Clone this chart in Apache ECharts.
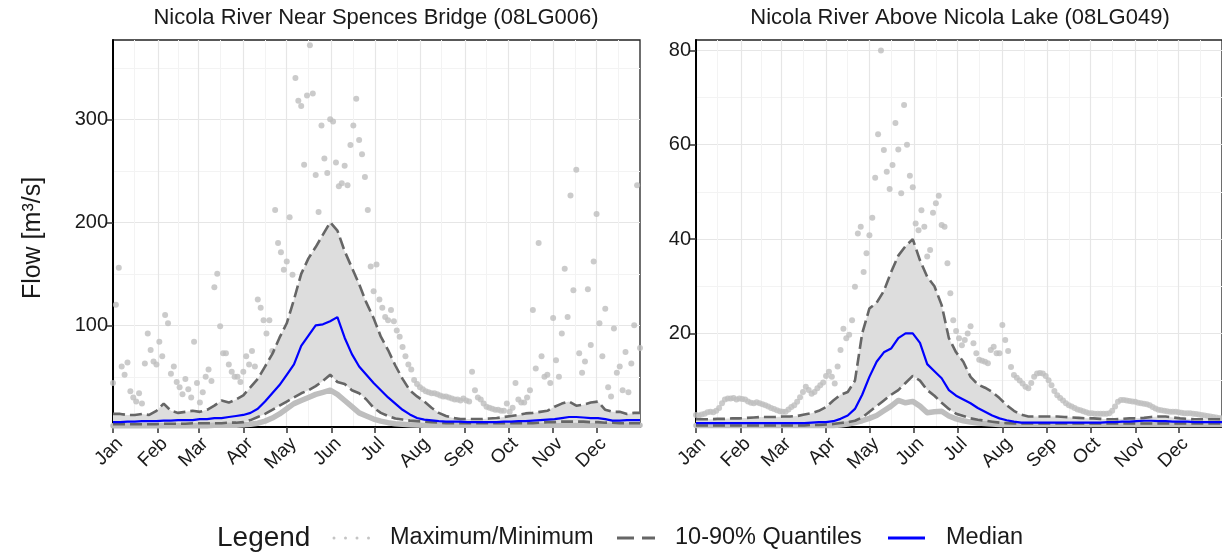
<!DOCTYPE html>
<html>
<head>
<meta charset="utf-8">
<script src="https://cdn.jsdelivr.net/npm/echarts@6/dist/echarts.min.js"></script>
<style>
  html, body { margin: 0; padding: 0; background: #fff; }
  #app { width: 1222px; height: 554px; }
</style>
</head>
<body>
<div id="app"></div>
<script>
// x axis: day of year, month starts get labels
var monthStarts = [1, 32, 60, 91, 121, 152, 182, 213, 244, 274, 305, 335];
var monthMids = [16, 46, 75, 106, 136, 167, 197, 228, 259, 289, 320, 350];
var monthNames = ['Jan', 'Feb', 'Mar', 'Apr', 'May', 'Jun', 'Jul', 'Aug', 'Sep', 'Oct', 'Nov', 'Dec'];

var leftTicks = [100, 200, 300];
var leftMinor = [50, 150, 250, 350];
var rightTicks = [20, 40, 60, 80];
var rightMinor = [10, 30, 50, 70];

// 08LG006 - lines every 5 days (day 1, 6, 11 ... 366)
var lMedian = [
  6, 6, 6.5, 6.5, 7, 7, 7, 7.5, 7.5, 8,
  8, 8, 9, 9, 10, 10, 11, 12, 13, 15,
  19, 26, 34, 42, 52, 62, 80, 90, 100, 101,
  104, 108, 88, 72, 60, 52, 44, 37, 30, 24,
  18, 13.5, 10, 8.5, 7.8, 7, 6.5, 6.5, 6.5, 6,
  6, 6, 6, 6, 6.5, 6.5, 7, 7, 7.5, 8,
  8.5, 9, 10, 11, 11, 10.5, 10, 10, 9, 7.5,
  7.5, 8, 8, 8
];
var lQ90 = [
  14, 14, 13, 13, 14, 13, 17, 24, 17, 15,
  16, 17, 16, 18, 22, 27, 25, 28, 32, 40,
  48, 60, 72, 88, 102, 125, 150, 165, 176, 188,
  200, 192, 172, 156, 140, 122, 107, 89, 76, 61,
  48, 37, 31, 26, 20, 15, 12, 10, 9, 9,
  9, 9, 9.5, 10, 11, 12, 13, 14.5, 15, 16,
  17, 21, 24, 26, 22, 23, 25, 26, 18, 16,
  16, 14, 15, 15
];
var lQ10 = [
  4, 4, 4, 4, 4, 4, 4, 4.5, 4.5, 4.5,
  4.5, 5, 5, 5, 5, 5, 5.5, 5.5, 6, 8,
  11, 14, 18, 22, 26, 30, 34, 37, 41, 46,
  52, 45, 43, 37, 34, 28, 20, 15, 12, 9.5,
  8.5, 7.5, 7, 6.5, 6, 5.5, 5, 5, 5, 5,
  5, 5, 5, 5, 5, 5, 5, 5, 5, 5.5,
  6, 6, 6.5, 6.5, 6.5, 6.5, 6, 6, 5.5, 5.5,
  5, 5, 5, 5
];
var lMin = [
  2.5, 2.5, 2.5, 2.5, 2.5, 2.5, 2.5, 2.5, 2.5, 2.5,
  2.5, 2.5, 2.5, 2.5, 3, 3, 3, 3, 3.5, 4,
  5, 7, 10, 14, 19, 24, 27, 30, 33, 35,
  37, 33, 27, 21, 15, 12, 9, 7, 5.5, 4.5,
  4, 3.5, 3.2, 3, 3, 3, 3, 3, 3, 3,
  3, 3, 3, 3, 3, 3, 3, 3, 3, 3,
  3, 3, 3, 3, 3, 3, 3, 3, 3, 3,
  3, 3, 3, 3
];
// 08LG006 - daily maximum, every 2 days (day 1, 3, 5 ... 365)
var lMax = [
  44, 120, 156, 60, 52, 64, 36, 30, 26, 34,
  24, 63, 92, 76, 65, 62, 84, 70, 110, 102,
  53, 60, 45, 40, 33, 48, 38, 30, 84, 44,
  25, 35, 50, 57, 46, 137, 150, 99, 73, 73,
  62, 55, 50, 50, 45, 55, 70, 62, 75, 60,
  125, 117, 105, 92, 105, 75, 212, 180, 171, 154,
  162, 205, 149, 340, 318, 313, 256, 323, 372, 325,
  246, 210, 294, 262, 248, 300, 298, 258, 235, 238,
  255, 236, 275, 294, 320, 280, 266, 244, 212, 157,
  133, 159, 125, 117, 108, 105, 115, 104, 95, 89,
  79, 70, 62, 57, 47, 43, 40, 38, 36, 35,
  34, 34, 33, 32, 31, 31, 30, 29, 28, 28,
  27, 29, 27, 26, 55, 37, 30, 28, 24, 21,
  20, 19, 18, 18, 17, 17, 24, 16, 20, 44,
  28, 25, 25, 30, 37, 115, 58, 180, 70, 50,
  52, 44, 107, 66, 50, 92, 155, 108, 226, 134,
  251, 73, 54, 65, 135, 81, 162, 208, 102, 70,
  116, 40, 31, 97, 54, 60, 37, 74, 35, 63,
  100, 236, 78
];

// 08LG049 - lines every 5 days
var rMedian = [
  1, 1, 1, 1, 1, 1, 1, 1, 1, 1,
  1, 1, 1, 1, 1, 1, 1.1, 1.2, 1.2, 1.4,
  1.9, 2.6, 4, 7, 10.8, 14, 16, 16.8, 19, 20,
  20, 18, 13.5, 12, 10.5, 8, 6.8, 6, 5.2, 4.2,
  3.4, 2.6, 2, 1.6, 1.3, 1.1, 1.1, 1.1, 1.1, 1.1,
  1.1, 1.1, 1.1, 1.1, 1.1, 1.1, 1.1, 1.2, 1.2, 1.3,
  1.3, 1.4, 1.5, 1.5, 1.4, 1.4, 1.3, 1.3, 1.3, 1.2,
  1.2, 1.2, 1.2, 1.2
];
var rQ90 = [
  1.8, 1.8, 1.8, 1.9, 1.9, 2, 2, 2.1, 2.2, 2.3,
  2.3, 2.3, 2.4, 2.4, 2.5, 2.8, 3.1, 3.6, 4.4, 5.8,
  7, 7.6, 10, 20, 25.3, 26.5, 29, 33, 36.5, 38.5,
  40, 35.5, 32, 30, 26, 19, 16, 14, 10.8, 9.2,
  8.5, 7.6, 6.3, 4.8, 3.6, 2.8, 2.4, 2.4, 2.4, 2.4,
  2.4, 2.3, 2.2, 2.1, 2, 2, 1.9, 1.8, 1.8, 1.9,
  2, 2, 2.1, 2.3, 2.4, 2.4, 2.2, 2, 1.9, 1.8,
  1.8, 1.8, 1.8, 1.8
];
var rQ10 = [
  0.5, 0.5, 0.5, 0.5, 0.5, 0.5, 0.5, 0.5, 0.5, 0.5,
  0.5, 0.5, 0.5, 0.5, 0.5, 0.5, 0.6, 0.6, 0.7, 0.8,
  1, 1.2, 1.5, 2.2, 3.4, 4.6, 5.8, 7, 8, 9.5,
  11, 10, 8, 6.8, 5.3, 4, 3, 2.5, 2, 1.7,
  1.5, 1.3, 1.1, 1, 0.9, 0.9, 0.9, 0.9, 0.9, 0.9,
  0.9, 0.9, 0.9, 0.9, 0.9, 0.9, 0.9, 0.9, 0.9, 0.9,
  0.9, 0.9, 0.9, 0.9, 0.9, 0.9, 0.9, 0.9, 0.9, 0.9,
  0.9, 0.9, 0.9, 0.9
];
var rMin = [
  0.5, 0.5, 0.5, 0.5, 0.5, 0.5, 0.5, 0.5, 0.5, 0.5,
  0.5, 0.5, 0.5, 0.5, 0.5, 0.5, 0.5, 0.5, 0.5, 0.5,
  0.6, 0.8, 1.1, 1.5, 2, 2.6, 3.6, 4.6, 5.8, 5.3,
  5.6, 4.6, 3.2, 3.4, 3.5, 2.5, 1.9, 1.5, 1.2, 1,
  0.9, 0.8, 0.7, 0.7, 0.7, 0.7, 0.7, 0.7, 0.7, 0.7,
  0.7, 0.7, 0.7, 0.7, 0.7, 0.7, 0.7, 0.7, 0.7, 0.7,
  0.7, 0.7, 0.7, 0.7, 0.7, 0.7, 0.7, 0.7, 0.7, 0.7,
  0.7, 0.7, 0.7, 0.7
];
// 08LG049 - daily maximum, every 2 days
var rMax = [
  2.7, 2.6, 2.8, 3, 3.3, 3.4, 3.3, 3.6, 4.2, 5.2,
  6, 6.2, 6.2, 6.3, 6, 6.2, 6.1, 6, 5.6, 5.3,
  5.2, 5.4, 5.2, 5, 4.8, 4.5, 4.2, 4, 3.7, 3.5,
  3.4, 3.4, 3.9, 4.4, 4.8, 5.5, 6.5, 7.6, 8.7, 8,
  7.2, 7.6, 8.4, 9, 9.6, 11, 11.9, 10.8, 9.4, 13,
  16.5, 21, 19, 19.7, 22.8, 29.9, 41.2, 42.6, 33, 37,
  40.8, 44.5, 53, 62.2, 80, 58.9, 54.3, 50.6, 55.7, 64.6,
  59, 49.7, 68.4, 60, 53.4, 51, 43.3, 41.9, 46.1, 42.6,
  36.3, 37.7, 45.6, 47.6, 49.2, 43, 42.6, 34.9, 28.5, 22.8,
  20.5, 19, 17.5, 18.6, 20, 21.5, 17.9, 15.8, 14.4, 14.2,
  14, 13.7, 16.5, 17.2, 15.8, 15.8, 21.8, 18.6, 16.3, 12.9,
  11.2, 10.6, 10, 9.4, 8.7, 8.4, 9.5, 10.8, 11.5, 11.6,
  11.5, 11, 10.1, 9, 7.8, 6.9, 6.3, 5.8, 5.2, 4.8,
  4.5, 4.2, 3.9, 3.7, 3.5, 3.3, 3.1, 3.1, 3, 3,
  3, 3, 3, 3.1, 3.6, 4.5, 5.5, 5.9, 5.9, 5.8,
  5.7, 5.6, 5.5, 5.3, 5.2, 5.1, 5, 4.8, 4.4, 4.1,
  3.8, 3.7, 3.6, 3.5, 3.4, 3.4, 3.4, 3.3, 3.2, 3.1,
  3.1, 3.1, 3, 2.9, 2.8, 2.7, 2.6, 2.5, 2.4, 2.3,
  2.2, 2.1, 2
];

var FONT = 'Liberation Sans';
var TXT = '#1a1a1a';

function pts(vals, step) {
  return vals.map(function (v, i) { return [Math.min(1 + step * i, 365), v]; });
}

function xAxes(g) {
  return [{
    type: 'value', gridIndex: g, min: 1, max: 365, position: 'bottom',
    axisLine: { show: true, onZero: false, lineStyle: { color: '#000', width: 2 } },
    axisTick: { show: true, customValues: monthStarts, length: 6, lineStyle: { color: '#333', width: 1.5 } },
    axisLabel: {
      customValues: monthStarts, rotate: 45, margin: 7, fontSize: 19, color: TXT, fontFamily: FONT,
      verticalAlign: 'top', align: 'right',
      formatter: function (v) { return monthNames[monthStarts.indexOf(v)]; }
    },
    splitLine: { show: true, lineStyle: { color: '#e6e6e6', width: 1.2 } }
  }, {
    type: 'value', gridIndex: g, min: 1, max: 365, position: 'top',
    axisLine: { show: false }, axisLabel: { show: false },
    axisTick: { show: false, customValues: monthMids },
    splitLine: { show: true, lineStyle: { color: '#f3f3f3', width: 1 } }
  }];
}
function yAxes(g, min, max, ticks, minor) {
  return [{
    type: 'value', gridIndex: g, min: min, max: max, position: 'left',
    axisLine: { show: true, onZero: false, lineStyle: { color: '#000', width: 2 } },
    axisTick: { show: true, customValues: ticks, length: 6, lineStyle: { color: '#333', width: 1.5 } },
    axisLabel: { customValues: ticks, margin: 5, fontSize: 20, color: TXT, fontFamily: FONT },
    splitLine: { show: true, lineStyle: { color: '#e6e6e6', width: 1.2 } }
  }, {
    type: 'value', gridIndex: g, min: min, max: max, position: 'right',
    axisLine: { show: false }, axisLabel: { show: false },
    axisTick: { show: false, customValues: minor },
    splitLine: { show: true, lineStyle: { color: '#f3f3f3', width: 1 } }
  }];
}

function panelSeries(xi, yi, med, q90, q10, mn, mx) {
  var base = { xAxisIndex: xi, yAxisIndex: yi, symbol: 'none', silent: true };
  var hi = pts(q90, 5), lo = pts(q10, 5);
  return [
    // 10-90% ribbon as one polygon through the axis scales
    { type: 'custom', xAxisIndex: xi, yAxisIndex: yi, silent: true, z: 1, data: [[1, 0]],
      renderItem: function (params, api) {
        var poly = hi.map(function (p) { return api.coord(p); })
          .concat(lo.slice().reverse().map(function (p) { return api.coord(p); }));
        return { type: 'polygon', shape: { points: poly }, style: { fill: '#dddddd' } };
      } },
    Object.assign({}, base, { type: 'line', data: pts(mn, 5),
      lineStyle: { color: '#bebebe', width: 5.5, cap: 'round', join: 'round' }, z: 2 }),
    { type: 'scatter', xAxisIndex: xi, yAxisIndex: yi, silent: true, data: pts(mx, 2),
      symbolSize: 6, itemStyle: { color: '#bebebe' }, z: 3 },
    Object.assign({}, base, { type: 'line', data: lo,
      lineStyle: { color: '#666', width: 2.6, type: [12, 5] }, z: 4 }),
    Object.assign({}, base, { type: 'line', data: hi,
      lineStyle: { color: '#666', width: 2.6, type: [12, 5] }, z: 4 }),
    Object.assign({}, base, { type: 'line', data: pts(med, 5),
      lineStyle: { color: '#0000ff', width: 2.2 }, z: 5 })
  ];
}

var chart = echarts.init(document.getElementById('app'));

var option = {
  animation: false,
  backgroundColor: '#fff',
  grid: [
    { left: 113, top: 40, width: 527, height: 387, show: true, borderColor: '#222', borderWidth: 1.3 },
    { left: 696, top: 40, width: 528, height: 387, show: true, borderColor: '#222', borderWidth: 1.3 }
  ],
  xAxis: xAxes(0).concat(xAxes(1)),
  yAxis: yAxes(0, 1.3, 377, leftTicks, leftMinor).concat(yAxes(1, 0.17, 82.2, rightTicks, rightMinor)),
  series: panelSeries(0, 0, lMedian, lQ90, lQ10, lMin, lMax)
    .concat(panelSeries(2, 2, rMedian, rQ90, rQ10, rMin, rMax)),
  graphic: [
    { type: 'text', x: 376, y: 18, style: { text: 'Nicola River Near Spences Bridge (08LG006)', fill: TXT,
      font: '22px "Liberation Sans"', align: 'center', verticalAlign: 'middle' } },
    { type: 'text', x: 960, y: 18, style: { text: 'Nicola River Above Nicola Lake (08LG049)', fill: TXT,
      font: '22px "Liberation Sans"', align: 'center', verticalAlign: 'middle' } },
    { type: 'text', x: 33, y: 238, rotation: Math.PI / 2, style: { text: 'Flow [m³/s]', fill: TXT,
      font: '25px "Liberation Sans"', align: 'center', verticalAlign: 'middle' } },
    { type: 'text', x: 217, y: 538, style: { text: 'Legend', fill: TXT,
      font: '28px "Liberation Sans"', verticalAlign: 'middle' } },
    { type: 'circle', shape: { cx: 334, cy: 538, r: 1.5 }, style: { fill: '#c4c4c4' } },
    { type: 'circle', shape: { cx: 345.5, cy: 538, r: 1.5 }, style: { fill: '#c4c4c4' } },
    { type: 'circle', shape: { cx: 357, cy: 538, r: 1.5 }, style: { fill: '#c4c4c4' } },
    { type: 'circle', shape: { cx: 368.5, cy: 538, r: 1.5 }, style: { fill: '#c4c4c4' } },
    { type: 'text', x: 390, y: 538, style: { text: 'Maximum/Minimum', fill: TXT,
      font: '23.5px "Liberation Sans"', verticalAlign: 'middle' } },
    { type: 'line', shape: { x1: 617, y1: 538, x2: 655, y2: 538 },
      style: { stroke: '#666', lineWidth: 3, lineDash: [17, 8] } },
    { type: 'text', x: 675, y: 538, style: { text: '10-90% Quantiles', fill: TXT,
      font: '23.5px "Liberation Sans"', verticalAlign: 'middle' } },
    { type: 'line', shape: { x1: 888, y1: 538, x2: 925, y2: 538 },
      style: { stroke: '#0000ff', lineWidth: 3 } },
    { type: 'text', x: 946, y: 538, style: { text: 'Median', fill: TXT,
      font: '23.5px "Liberation Sans"', verticalAlign: 'middle' } }
  ]
};

chart.setOption(option);
</script>
</body>
</html>
